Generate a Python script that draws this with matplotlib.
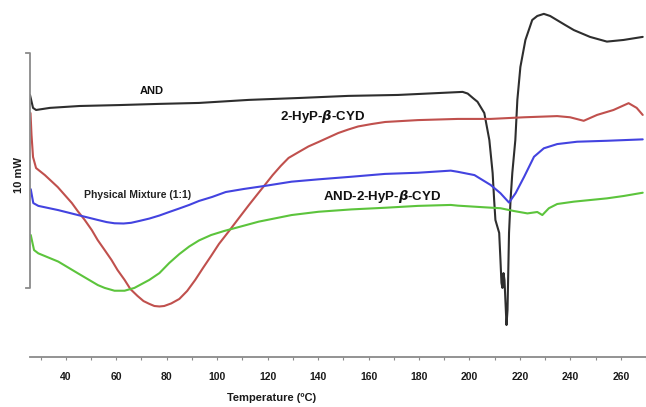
import numpy as np
import matplotlib
matplotlib.use("Agg")
import matplotlib.pyplot as plt

plt.rcParams['font.family'] = ['Liberation Sans', 'DejaVu Sans']

# DSC traces (temperature in C, heat flow in mW, offset per curve)
and_t = [25.8, 27.0, 28.2, 33.7, 45.5, 61.3, 77.1, 92.8, 112.6, 132.3, 152.0, 171.7,
         187.5, 197.3, 199.3, 201.6, 203.2, 205.9, 207.9, 209.2, 209.8, 210.3, 211.8, 212.3,
         212.7, 213.1, 213.5, 213.9, 214.7, 215.1, 215.7, 216.3, 217.0, 218.2, 219.0,
         220.2, 222.2, 224.9, 226.9, 229.5, 232.0, 237.9, 241.4, 247.8, 254.5, 261.1, 268.7]
and_q = [11.15, 10.60, 10.51, 10.60, 10.68, 10.72, 10.77, 10.81, 10.94, 11.02, 11.11, 11.15,
         11.23, 11.28, 11.21, 11.00, 10.86, 10.38, 9.23, 7.83, 6.68, 5.83, 5.28, 4.13,
         3.15, 2.94, 3.57, 3.28, 1.36, 2.00, 5.28, 6.68, 7.83, 9.23, 10.94,
         12.34, 13.49, 14.34, 14.51, 14.60, 14.51, 14.13, 13.91, 13.62, 13.42, 13.49, 13.62]

cyd_t = [26.0, 26.4, 27.0, 28.2, 31.7, 36.8, 39.6, 42.4, 44.7, 47.5, 50.3, 52.6, 55.4,
         58.1, 60.5, 63.3, 65.6, 68.4, 70.8, 73.1, 75.1, 77.1, 79.0, 81.8, 85.0, 88.1,
         91.3, 94.4, 97.6, 100.7, 104.7, 108.6, 112.6, 115.7, 118.9, 122.0, 125.2, 128.3,
         132.3, 136.2, 140.2, 144.1, 148.0, 152.0, 155.9, 161.1, 166.6, 179.6, 195.4,
         208.4, 221.7, 234.8, 239.9, 245.3, 250.6, 257.1, 263.1, 266.3, 268.7]
cyd_q = [10.38, 9.45, 8.51, 8.04, 7.74, 7.23, 6.89, 6.55, 6.21, 5.83, 5.40, 4.98, 4.55,
         4.13, 3.70, 3.28, 2.89, 2.60, 2.38, 2.26, 2.17, 2.15, 2.17, 2.28, 2.47, 2.81,
         3.28, 3.79, 4.30, 4.81, 5.36, 5.91, 6.47, 6.89, 7.32, 7.74, 8.13, 8.47,
         8.72, 8.96, 9.15, 9.34, 9.53, 9.68, 9.81, 9.91, 10.00, 10.08, 10.13,
         10.13, 10.20, 10.25, 10.20, 10.05, 10.30, 10.51, 10.80, 10.60, 10.30]

mix_t = [26.1, 27.1, 29.1, 37.0, 44.8, 52.7, 56.2, 59.3, 62.9, 65.9, 69.2, 73.1, 77.1,
         81.0, 85.0, 88.9, 92.8, 98.0, 103.4, 110.6, 118.9, 129.5, 140.2, 153.2, 166.5,
         179.6, 192.6, 195.4, 202.0, 208.4, 212.3, 215.7, 218.3, 221.7, 225.6, 229.5,
         234.8, 242.7, 254.5, 268.7]
mix_q = [7.14, 6.55, 6.43, 6.25, 6.04, 5.83, 5.74, 5.69, 5.68, 5.71, 5.79, 5.89, 6.02,
         6.17, 6.32, 6.47, 6.64, 6.81, 7.02, 7.15, 7.28, 7.46, 7.56, 7.67, 7.79,
         7.84, 7.93, 7.88, 7.74, 7.32, 6.97, 6.57, 6.97, 7.67, 8.52, 8.88,
         9.06, 9.16, 9.20, 9.26]

cplx_t = [26.1, 27.4, 29.1, 37.0, 44.8, 52.7, 55.4, 59.3, 63.3, 67.2, 73.1, 77.1, 81.0,
          85.0, 88.9, 92.8, 97.6, 102.7, 108.6, 116.5, 129.5, 140.2, 153.2, 166.5, 179.6,
          192.6, 195.4, 205.9, 212.3, 217.7, 223.0, 226.9, 228.9, 231.5, 234.8, 241.4,
          254.5, 261.1, 268.7]
cplx_q = [5.19, 4.55, 4.41, 4.06, 3.56, 3.06, 2.94, 2.82, 2.82, 2.94, 3.28, 3.57, 4.00,
          4.38, 4.70, 4.96, 5.19, 5.36, 5.53, 5.76, 6.04, 6.18, 6.28, 6.35, 6.43,
          6.47, 6.44, 6.37, 6.33, 6.21, 6.11, 6.17, 6.04, 6.33, 6.51, 6.61,
          6.75, 6.85, 6.99]

major_ticks = list(range(40, 261, 20))
minor_ticks = list(range(30, 271, 10))


def main():
    fig = plt.figure(figsize=(6.46, 4.07), dpi=100)
    ax = fig.add_axes([30 / 646, 50 / 407, 616 / 646, 357 / 407])

    style = dict(lw=1.5, solid_joinstyle='round', solid_capstyle='round')
    ax.plot(and_t, and_q, color='#2e2e2e', **style)
    ax.plot(cyd_t, cyd_q, color='#c0504d', **style)
    ax.plot(mix_t, mix_q, color='#4343e0', **style)
    ax.plot(cplx_t, cplx_q, color='#5cc43c', **style)

    ax.set_xlim(25.8, 268.7)
    ax.set_ylim(0, 15.19)

    for side in ['top', 'right', 'left']:
        ax.spines[side].set_visible(False)
    ax.spines['bottom'].set_color('#8a8a8a')
    ax.spines['bottom'].set_linewidth(1.3)

    ax.set_yticks([])
    ax.set_xticks(major_ticks)
    ax.set_xticks(minor_ticks, minor=True)
    ax.tick_params(axis='x', which='both', direction='out', length=2.5, width=0.8,
                   color='#8a8a8a', pad=8)
    ax.tick_params(axis='x', which='major', labelsize=7.5, labelcolor='#1a1a1a')
    for lbl in ax.get_xticklabels():
        lbl.set_fontweight('bold')

    # 10 mW scale bar
    tr = ax.get_yaxis_transform()
    ax.plot([-0.007, 0, 0, -0.007], [12.95, 12.95, 2.95, 2.95], color='#8a8a8a',
            lw=1.3, transform=tr, clip_on=False)
    fig.text(19 / 646, 1 - 175 / 407, '10 mW', rotation=90, ha='center', va='center',
             fontsize=8, fontweight='bold', color='#1a1a1a')

    # curve labels
    ax.text(73.9, 11.32, 'AND', ha='center', va='center', fontsize=8,
            fontweight='bold', color='#111111')
    ax.text(141.7, 10.22, r'2-HyP-$\boldsymbol{\beta}$-CYD', ha='center', va='center',
            fontsize=9.5, fontweight='bold', color='#111111')
    ax.text(68.4, 6.89, 'Physical Mixture (1:1)', ha='center', va='center', fontsize=7.5,
            fontweight='bold', color='#222222')
    ax.text(165.4, 6.85, r'AND-2-HyP-$\boldsymbol{\beta}$-CYD', ha='center', va='center',
            fontsize=9.5, fontweight='bold', color='#111111')

    fig.text(272 / 646, 1 - 398 / 407, 'Temperature (\u00baC)', ha='center', va='center',
             fontsize=8, fontweight='bold', color='#1a1a1a')

    fig.savefig('out.png', dpi=100)


if __name__ == "__main__":
    main()
